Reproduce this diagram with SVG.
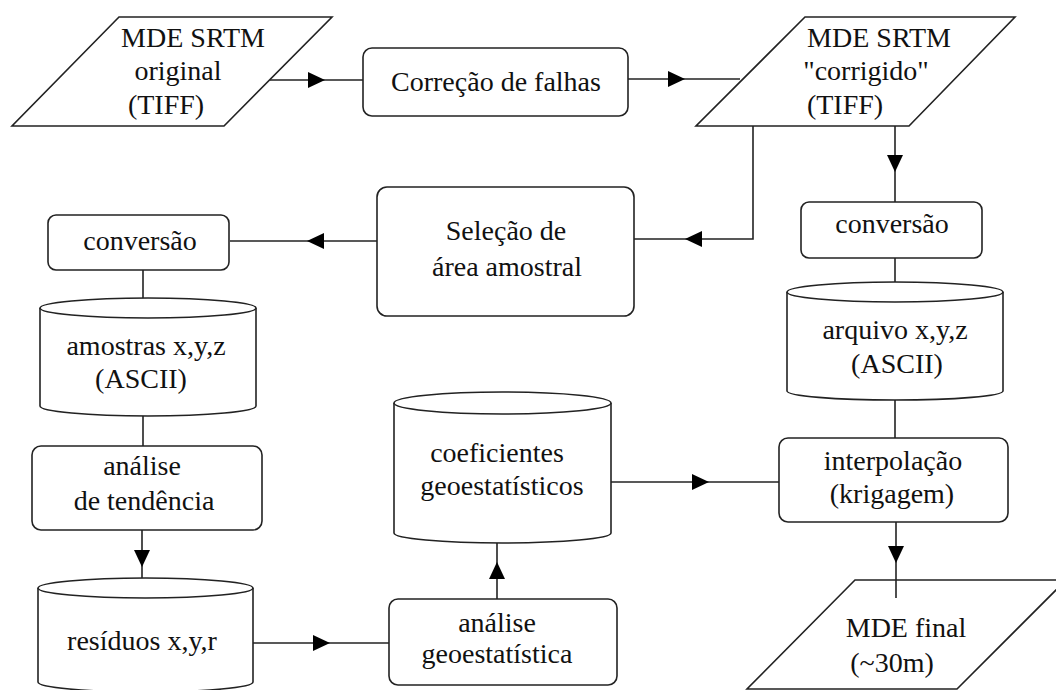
<svg xmlns="http://www.w3.org/2000/svg" xmlns:xlink="http://www.w3.org/1999/xlink" width="1056" height="690" viewBox="0 0 1056 690">
<style>
.s{fill:#fff;stroke:#222;stroke-width:1.6}
.t{font-family:"Liberation Serif","Tinos","Nimbus Roman","Nimbus Roman No9 L","FreeSerif","Noto Serif","DejaVu Serif","Times New Roman",Times,serif;font-size:28px;fill:#111;text-anchor:middle}
.c{fill:none;stroke:#222;stroke-width:1.6}
</style>
<defs>
<path id="ah" d="M0,0 L-17,-8 L-17,8 Z" fill="#000"/>
</defs>
<rect width="1056" height="690" fill="#fff"/>
<g id="connectors">
<line class="c" x1="270" y1="80" x2="363" y2="80"/>
<line class="c" x1="628" y1="79" x2="740" y2="79"/>
<line class="c" x1="895" y1="126" x2="895" y2="202"/>
<polyline class="c" points="753,126 753,239 634,239"/>
<line class="c" x1="377" y1="241" x2="230" y2="241"/>
<line class="c" x1="143" y1="270" x2="143" y2="308"/>
<line class="c" x1="143" y1="415" x2="143" y2="446"/>
<line class="c" x1="142" y1="530" x2="142" y2="588"/>
<line class="c" x1="253" y1="643" x2="389" y2="643"/>
<line class="c" x1="497" y1="599" x2="497" y2="543"/>
<line class="c" x1="611" y1="482" x2="779" y2="482"/>
<line class="c" x1="895" y1="258" x2="895" y2="292"/>
<line class="c" x1="895" y1="399" x2="895" y2="438"/>
<line class="c" x1="896" y1="522" x2="896" y2="598"/>
<use xlink:href="#ah" transform="translate(325,80)"/>
<use xlink:href="#ah" transform="translate(685,79)"/>
<use xlink:href="#ah" transform="translate(895,172) rotate(90)"/>
<use xlink:href="#ah" transform="translate(685,239) rotate(180)"/>
<use xlink:href="#ah" transform="translate(307,241) rotate(180)"/>
<use xlink:href="#ah" transform="translate(142,567) rotate(90)"/>
<use xlink:href="#ah" transform="translate(330,643)"/>
<use xlink:href="#ah" transform="translate(497,562) rotate(-90)"/>
<use xlink:href="#ah" transform="translate(709,482)"/>
<use xlink:href="#ah" transform="translate(896,563) rotate(90)"/>
</g>
<g id="mde-original">
<polygon class="s" points="119,17 332,17 224,126 12,126"/>
<text class="t" x="193" y="47">MDE SRTM</text>
<text class="t" x="178" y="80">original</text>
<text class="t" x="166" y="114">(TIFF)</text>
</g>
<g id="correcao">
<rect class="s" x="363" y="48" width="265" height="68" rx="9"/>
<text class="t" x="496" y="91">Correção de falhas</text>
</g>
<g id="mde-corrigido">
<polygon class="s" points="805,17 1015,17 909,126 696,126"/>
<text class="t" x="879" y="47">MDE SRTM</text>
<text class="t" x="866" y="80">"corrigido"</text>
<text class="t" x="845" y="114">(TIFF)</text>
</g>
<g id="selecao">
<rect class="s" x="377" y="187" width="257" height="129" rx="10"/>
<text class="t" x="506" y="240">Seleção de</text>
<text class="t" x="507" y="276">área amostral</text>
</g>
<g id="conversao-left">
<rect class="s" x="48" y="215" width="181" height="55" rx="8"/>
<text class="t" x="140" y="250">conversão</text>
</g>
<g id="amostras">
<path class="s" d="M40,308 L40,406 A108,10 0 0 0 256,406 L256,308"/>
<ellipse class="s" cx="148" cy="308" rx="108" ry="10"/>
<text class="t" x="146" y="355">amostras x,y,z</text>
<text class="t" x="141" y="388">(ASCII)</text>
</g>
<g id="analise-tendencia">
<rect class="s" x="32" y="446" width="230" height="84" rx="9"/>
<text class="t" x="142" y="475">análise</text>
<text class="t" x="144" y="510">de tendência</text>
</g>
<g id="residuos">
<path class="s" d="M38,588 L38,682 A107.5,10 0 0 0 253,682 L253,588"/>
<ellipse class="s" cx="145.5" cy="588" rx="107.5" ry="10"/>
<text class="t" x="142" y="650">resíduos x,y,r</text>
</g>
<g id="analise-geo">
<rect class="s" x="389" y="599" width="228" height="86" rx="9"/>
<text class="t" x="497" y="632">análise</text>
<text class="t" x="497" y="663">geoestatística</text>
</g>
<g id="coeficientes">
<path class="s" d="M394,403 L394,533 A108.5,10 0 0 0 611,533 L611,403"/>
<ellipse class="s" cx="502.5" cy="403" rx="108.5" ry="11"/>
<text class="t" x="497" y="462">coeficientes</text>
<text class="t" x="502" y="495">geoestatísticos</text>
</g>
<g id="conversao-right">
<rect class="s" x="801" y="202" width="181" height="56" rx="8"/>
<text class="t" x="892" y="233">conversão</text>
</g>
<g id="arquivo">
<path class="s" d="M787,292 L787,391 A108,9 0 0 0 1003,391 L1003,292"/>
<ellipse class="s" cx="895" cy="292" rx="108" ry="10"/>
<text class="t" x="895" y="339">arquivo x,y,z</text>
<text class="t" x="897" y="373">(ASCII)</text>
</g>
<g id="interpolacao">
<rect class="s" x="779" y="438" width="229" height="84" rx="9"/>
<text class="t" x="893" y="470">interpolação</text>
<text class="t" x="892" y="503">(krigagem)</text>
</g>
<g id="mde-final">
<polygon class="s" points="855,580 1066,580 957,689 747,689"/>
<line x1="896" y1="580" x2="896" y2="598" stroke="#222" stroke-width="1.6"/>
<text class="t" x="906" y="637">MDE final</text>
<text class="t" x="892" y="672">(~30m)</text>
</g>
</svg>
